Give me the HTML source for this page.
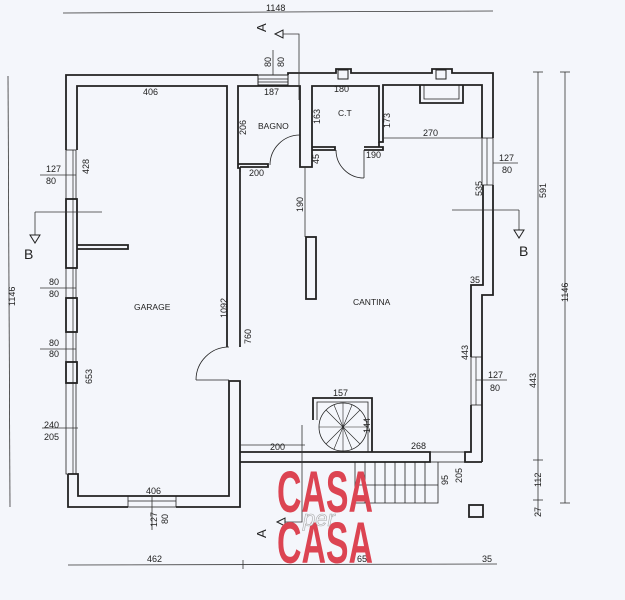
<!DOCTYPE html>
<html><head><meta charset="utf-8"><style>
html,body{margin:0;padding:0;background:#f4f6fb;}
svg{display:block}
text{font-family:"Liberation Sans",sans-serif;fill:#222;}
</style></head><body>
<svg width="625" height="600" viewBox="0 0 625 600" xmlns="http://www.w3.org/2000/svg">
<rect width="625" height="600" fill="#f4f6fb"/>
<g fill="none" stroke="#222" stroke-width="1.8">
<polyline points="66,150 66,75 258,75"/>
<polyline points="288,75 288,73 336,73 336,69 351,69 351,73 432,73 432,69 452,69 452,73 493,73 493,138"/>
<rect x="258" y="75" width="30" height="10" stroke-width="1"/>
<line x1="258" y1="79" x2="288" y2="79" stroke-width="0.8"/>
<line x1="258" y1="82" x2="288" y2="82" stroke-width="0.8"/>
<polyline points="77,150 77,86 227,86 227,347"/>
<polyline points="240,347 240,168 238,168 238,86 300,86 300,167 312,167 312,86 379,86 379,142 383,142 383,85 482,85 482,138"/>
<rect x="66" y="199" width="11" height="69"/>
<rect x="66" y="298" width="11" height="34"/>
<rect x="66" y="362" width="11" height="21"/>
<rect x="66" y="150" width="10" height="49" stroke-width="0.8"/>
<rect x="66" y="268" width="10" height="30" stroke-width="0.8"/>
<rect x="66" y="332" width="10" height="30" stroke-width="0.8"/>
<rect x="66" y="383" width="10" height="91" stroke-width="0.8"/>
<line x1="73" y1="150" x2="73" y2="474" stroke-width="0.7"/>
<polyline points="68,474 78,474 78,496 229,496 229,381 240,381 240,507 176,507"/>
<polyline points="128,507 68,507 68,474"/>
<rect x="128" y="496" width="48" height="11" stroke-width="0.8"/>
<line x1="128" y1="501" x2="176" y2="501" stroke-width="0.7"/>
<polyline points="77,245 128,245 128,249 77,249"/>
<polyline points="238,164 268,164 268,167 240,167"/>
<polyline points="312,147 335,147 335,150 312,150"/>
<polyline points="364,147 383,147 383,150 364,150"/>
<line x1="379" y1="142" x2="379" y2="147"/>
<path d="M300,135 A30,30 0 0 0 270,165" stroke-width="0.8"/>
<line x1="300" y1="135" x2="300" y2="164" stroke-width="0.8"/>
<path d="M336,150 A28,28 0 0 0 364,178" stroke-width="0.8"/>
<line x1="364" y1="150" x2="364" y2="178" stroke-width="0.8"/>
<path d="M229,347 A33,33 0 0 0 196,380" stroke-width="0.8"/>
<line x1="196" y1="380" x2="229" y2="380" stroke-width="0.8"/>
<polyline points="493,185 493,295 482,295 482,462"/>
<polyline points="483,185 483,285 471,285 471,357"/>
<rect x="482" y="138" width="11" height="47" stroke-width="0.8"/>
<line x1="487" y1="138" x2="487" y2="185" stroke-width="0.7"/>
<rect x="471" y="357" width="11" height="48" stroke-width="0.8"/>
<line x1="476" y1="357" x2="476" y2="405" stroke-width="0.7"/>
<polyline points="471,405 471,452 465,452 465,462 482,462"/>
<polyline points="240,452 430,452 430,462 240,462"/>
<rect x="430" y="452" width="35" height="10" stroke-width="0.8"/>
<polyline points="420,85 420,103 463,103 463,85"/>
<polyline points="424,85 424,99 459,99 459,85" stroke-width="0.8"/>
<rect x="338" y="70" width="10" height="9" stroke-width="1"/>
<rect x="436" y="70" width="10" height="9" stroke-width="1"/>
<rect x="306" y="237" width="10" height="62"/>
<polyline points="313,420 313,398 372,398 372,452"/>
<polyline points="317,420 317,402 368,402 368,452" stroke-width="0.8"/>
<circle cx="343" cy="427" r="24" stroke-width="0.8"/>
<g stroke-width="0.6">
<line x1="343" y1="403" x2="343" y2="451"/><line x1="319" y1="427" x2="367" y2="427"/>
<line x1="326" y1="410" x2="360" y2="444"/><line x1="360" y1="410" x2="326" y2="444"/>
<line x1="334" y1="405" x2="352" y2="449"/><line x1="352" y1="405" x2="334" y2="449"/>
</g>
<g stroke-width="0.8">
<polyline points="355,462 355,503 438,503 438,462"/>
<line x1="365" y1="462" x2="365" y2="503"/><line x1="375" y1="462" x2="375" y2="503"/>
<line x1="385" y1="462" x2="385" y2="503"/><line x1="395" y1="462" x2="395" y2="503"/>
<line x1="405" y1="462" x2="405" y2="503"/><line x1="415" y1="462" x2="415" y2="503"/>
<line x1="425" y1="462" x2="425" y2="503"/>
<line x1="355" y1="485" x2="438" y2="485"/>
</g>
<rect x="469" y="505" width="14" height="12"/>
</g>
<g stroke="#333" stroke-width="0.8" fill="none">
<line x1="63" y1="13" x2="493" y2="11"/>
<line x1="8" y1="76" x2="10" y2="507"/>
<line x1="538" y1="72" x2="538" y2="515"/>
<line x1="565" y1="72" x2="565" y2="503"/>
<line x1="68" y1="565" x2="497" y2="564"/>
<line x1="243" y1="560" x2="243" y2="569"/>
<line x1="533" y1="460" x2="543" y2="460"/><line x1="533" y1="500" x2="543" y2="500"/>
<line x1="533" y1="72" x2="543" y2="72"/><line x1="560" y1="72" x2="570" y2="72"/><line x1="560" y1="503" x2="570" y2="503"/>
<line x1="240" y1="172" x2="240" y2="345"/>
<line x1="305" y1="167" x2="305" y2="237"/>
<line x1="383" y1="138" x2="482" y2="138"/>
<line x1="240" y1="445" x2="305" y2="445"/>
<line x1="40" y1="175" x2="76" y2="175"/><line x1="40" y1="288" x2="76" y2="288"/>
<line x1="40" y1="349" x2="76" y2="349"/><line x1="42" y1="428" x2="78" y2="428"/>
<line x1="493" y1="163" x2="518" y2="163"/><line x1="476" y1="380" x2="507" y2="380"/>
<line x1="152" y1="496" x2="152" y2="530"/>
<line x1="273" y1="50" x2="273" y2="75"/>
<polyline points="283,34 299,34 299,100"/>
<line x1="35" y1="212" x2="102" y2="212"/><polyline points="35,212 35,235"/>
<line x1="452" y1="210" x2="519" y2="210"/><polyline points="519,210 519,230"/>
<polyline points="302,425 302,522 285,522"/>
</g>
<g fill="none" stroke="#222" stroke-width="1">
<polygon points="275,34 283,30 283,38"/>
<polygon points="30,235 40,235 35,243"/>
<polygon points="514,230 524,230 519,238"/>
<polygon points="277,522 285,518 285,526"/>
</g>
<text x="258" y="32" font-size="13" transform="rotate(-90 262 28)">A</text>
<text x="257" y="537" font-size="13" transform="rotate(-90 262 533)">A</text>
<text x="24" y="259" font-size="14">B</text>
<text x="519" y="256" font-size="14">B</text>
<g font-size="9">
<text x="266" y="11">1148</text>
<text x="143" y="95">406</text>
<text x="264" y="95">187</text>
<text x="334" y="92">180</text>
<text x="258" y="129" font-size="8.5">BAGNO</text>
<text x="338" y="116" font-size="8.5">C.T</text>
<text x="423" y="136">270</text>
<text x="366" y="158">190</text>
<text x="249" y="176">200</text>
<text x="134" y="310" font-size="8.5">GARAGE</text>
<text x="353" y="305" font-size="8.5">CANTINA</text>
<text x="46" y="172">127</text><text x="46" y="184">80</text>
<text x="49" y="285">80</text><text x="49" y="297">80</text>
<text x="49" y="346">80</text><text x="49" y="357">80</text>
<text x="44" y="428">240</text><text x="44" y="440">205</text>
<text x="499" y="161">127</text><text x="502" y="173">80</text>
<text x="488" y="378">127</text><text x="490" y="391">80</text>
<text x="470" y="283">35</text>
<text x="146" y="494">406</text>
<text x="270" y="450">200</text>
<text x="411" y="449">268</text>
<text x="333" y="396">157</text>
<text x="147" y="562">462</text>
<text x="482" y="562">35</text>
<text x="357" y="562" fill="#333">651</text>
<g>
<text transform="translate(89,174) rotate(-90)">428</text>
<text transform="translate(92,384) rotate(-90)">653</text>
<text transform="translate(227,318) rotate(-90)">1092</text>
<text transform="translate(251,344) rotate(-90)">760</text>
<text transform="translate(246,135) rotate(-90)">206</text>
<text transform="translate(320,124) rotate(-90)">163</text>
<text transform="translate(390,128) rotate(-90)">173</text>
<text transform="translate(319,164) rotate(-90)">45</text>
<text transform="translate(303,212) rotate(-90)">190</text>
<text transform="translate(482,196) rotate(-90)">535</text>
<text transform="translate(468,360) rotate(-90)">443</text>
<text transform="translate(370,433) rotate(-90)">144</text>
<text transform="translate(271,67) rotate(-90)">80</text>
<text transform="translate(284,67) rotate(-90)">80</text>
<text transform="translate(448,485) rotate(-90)">95</text>
<text transform="translate(462,483) rotate(-90)">205</text>
<text transform="translate(157,527) rotate(-90)">127</text>
<text transform="translate(168,524) rotate(-90)">80</text>
<text transform="translate(546,198) rotate(-90)">591</text>
<text transform="translate(536,388) rotate(-90)">443</text>
<text transform="translate(541,487) rotate(-90)">112</text>
<text transform="translate(541,517) rotate(-90)">27</text>
<text transform="translate(568,302) rotate(-90)">1146</text>
<text transform="translate(15,306) rotate(-90)">1146</text>
</g>
</g>
<g font-family="'Liberation Sans',sans-serif" font-weight="bold">
<text x="277" y="512" font-size="58" textLength="96" lengthAdjust="spacingAndGlyphs" style="fill:#dc4452">CASA</text>
<text x="277" y="563" font-size="58" textLength="96" lengthAdjust="spacingAndGlyphs" style="fill:#dc4452">CASA</text>
</g>
<text x="303" y="526" font-size="22" font-style="italic" style="fill:#f4f6fb;stroke:#aaa;stroke-width:0.6" font-family="'Liberation Serif',serif">per</text>
</svg>
</body></html>
